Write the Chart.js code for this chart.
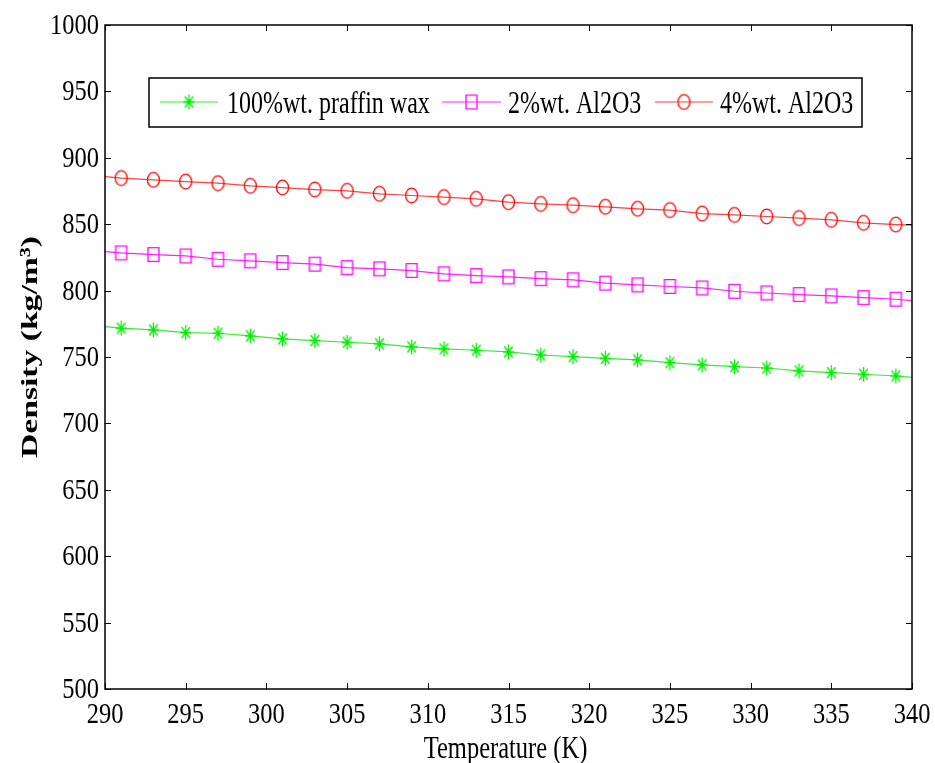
<!DOCTYPE html>
<html>
<head>
<meta charset="utf-8">
<script src="https://cdn.jsdelivr.net/npm/chart.js@4.4.1/dist/chart.umd.min.js"></script>
<style>
  body { margin: 0; background: #fff; }
  canvas { display: block; }
</style>
</head>
<body>
<canvas id="line-chart" width="935" height="763"></canvas>
<script>
// temperature (K) - line ends at 290 / 340, markers on the odd ones
let temps = [290, 291, 293, 295, 297, 299, 301, 303, 305, 307, 309, 311, 313, 315,
             317, 319, 321, 323, 325, 327, 329, 331, 333, 335, 337, 339, 340];

// density (kg/m3)
let wax = [772.9, 771.7, 770.4, 768.4, 767.9, 765.9, 763.6, 762.4, 761.1, 759.9, 757.6, 756.1, 755.1, 753.8,
           751.5, 750.3, 749.0, 747.8, 745.7, 744.0, 742.7, 741.7, 739.5, 738.2, 737.0, 735.7, 734.7];
let al2 = [829.4, 828.4, 827.1, 826.1, 823.6, 822.4, 821.1, 819.9, 817.3, 816.4, 815.1, 812.6, 811.3, 810.3,
           809.0, 808.1, 805.6, 804.3, 803.1, 802.0, 799.5, 798.2, 797.0, 796.0, 794.7, 793.5, 792.5];
let al4 = [885.9, 884.7, 883.4, 882.1, 880.9, 878.9, 877.6, 876.1, 875.1, 872.9, 871.6, 870.4, 869.1, 866.6,
           865.3, 864.3, 863.1, 861.6, 860.6, 858.0, 857.0, 855.8, 854.6, 853.3, 851.0, 849.7, 849.3];

let labels = ['100%wt. praffin wax', '2%wt. Al2O3', '4%wt. Al2O3'];
let xTicks = [290, 295, 300, 305, 310, 315, 320, 325, 330, 335, 340];
let yTicks = [500, 550, 600, 650, 700, 750, 800, 850, 900, 950, 1000];

const FONT = "'Liberation Serif', 'Times New Roman', serif";

// marker pictures (figure is a bit stretched vertically, so markers are too)
function makeMarker(kind, color) {
  let c = document.createElement('canvas');
  c.width = 15; c.height = 19;
  let g = c.getContext('2d');
  g.strokeStyle = color;
  g.lineWidth = 1.3;
  let cx = 7.5, cy = 9.5;
  g.beginPath();
  if (kind == 'circle') {
    g.ellipse(cx, cy, 6, 7.3, 0, 0, Math.PI * 2);
  } else if (kind == 'square') {
    g.rect(cx - 5.5, cy - 6.8, 11, 13.6);
  } else {
    g.moveTo(cx, cy - 7.5); g.lineTo(cx, cy + 7.5);
    g.moveTo(cx - 5.5, cy); g.lineTo(cx + 5.5, cy);
    g.moveTo(cx - 4.2, cy - 5.5); g.lineTo(cx + 4.2, cy + 5.5);
    g.moveTo(cx + 4.2, cy - 5.5); g.lineTo(cx - 4.2, cy + 5.5);
  }
  g.stroke();
  return c;
}

let mkWax = makeMarker('star', '#00ee00');
let mkAl2 = makeMarker('square', '#ff00ff');
let mkAl4 = makeMarker('circle', '#ff0000');

function toPts(ys) {
  return temps.map((t, i) => ({ x: t, y: ys[i] }));
}

function markerRadius(ctx) {
  return (ctx.dataIndex == 0 || ctx.dataIndex == temps.length - 1) ? 0 : 6;
}

function stretchText(ctx, str, x, y, sy) {
  ctx.save();
  ctx.translate(x, y);
  ctx.scale(1, sy);
  ctx.fillText(str, 0, 0);
  ctx.restore();
}

// frame, inward ticks, tick labels, titles and legend
const matlabAxes = {
  id: 'matlabAxes',
  afterDatasetsDraw(chart) {
    let ctx = chart.ctx;
    let a = chart.chartArea;
    let xs = chart.scales.x, ys = chart.scales.y;
    ctx.save();
    ctx.strokeStyle = '#000';
    ctx.fillStyle = '#000';
    ctx.lineWidth = 1.5;
    ctx.strokeRect(a.left, a.top, a.right - a.left, a.bottom - a.top);

    ctx.lineWidth = 1;
    ctx.beginPath();
    xTicks.forEach(v => {
      let px = Math.round(xs.getPixelForValue(v)) + 0.5;
      ctx.moveTo(px, a.bottom); ctx.lineTo(px, a.bottom - 6);
      ctx.moveTo(px, a.top); ctx.lineTo(px, a.top + 6);
    });
    yTicks.forEach(v => {
      let py = Math.round(ys.getPixelForValue(v)) + 0.5;
      ctx.moveTo(a.left, py); ctx.lineTo(a.left + 6, py);
      ctx.moveTo(a.right, py); ctx.lineTo(a.right - 6, py);
    });
    ctx.stroke();

    ctx.font = '24.5px ' + FONT;
    ctx.textAlign = 'center';
    ctx.textBaseline = 'alphabetic';
    xTicks.forEach(v => stretchText(ctx, String(v), xs.getPixelForValue(v), 723, 1.2));
    ctx.textAlign = 'right';
    yTicks.forEach(v => stretchText(ctx, String(v), a.left - 6, ys.getPixelForValue(v) + 9, 1.2));

    // axis titles
    ctx.textAlign = 'center';
    stretchText(ctx, 'Temperature (K)', (a.left + a.right) / 2 - 3, 758, 1.25);
    ctx.save();
    ctx.translate(37, (a.top + a.bottom) / 2 - 10);
    ctx.rotate(-Math.PI / 2);
    ctx.scale(1.4, 1);
    ctx.font = 'bold 24px ' + FONT;
    ctx.fillText('Density (kg/m³)', 0, 0);
    ctx.restore();

    // legend box
    ctx.fillStyle = '#fff';
    ctx.fillRect(149, 78, 713, 49);
    ctx.strokeStyle = '#000';
    ctx.lineWidth = 1.5;
    ctx.strokeRect(149, 78, 713, 49);
    let items = [
      { x0: 160, x1: 218, text: 227 },
      { x0: 442, x1: 501, text: 508 },
      { x0: 655, x1: 713, text: 720 }
    ];
    ctx.font = '24px ' + FONT;
    ctx.textAlign = 'left';
    ctx.fillStyle = '#000';
    chart.data.datasets.forEach((ds, i) => {
      let it = items[i];
      ctx.strokeStyle = ds.borderColor;
      ctx.lineWidth = ds.borderWidth;
      ctx.beginPath();
      ctx.moveTo(it.x0, 102); ctx.lineTo(it.x1, 102);
      ctx.stroke();
      let mk = ds.pointStyle;
      ctx.drawImage(mk, (it.x0 + it.x1) / 2 - mk.width / 2, 102 - mk.height / 2);
      stretchText(ctx, ds.label, it.text, 113, 1.3);
    });
    ctx.restore();
  }
};

new Chart(document.getElementById('line-chart').getContext('2d'), {
  type: 'line',
  data: {
    datasets: [
      { label: labels[0], data: toPts(wax), borderColor: '#33ee33', borderWidth: 1.2,
        pointStyle: mkWax, pointRadius: markerRadius },
      { label: labels[1], data: toPts(al2), borderColor: '#ff22ff', borderWidth: 1.2,
        pointStyle: mkAl2, pointRadius: markerRadius },
      { label: labels[2], data: toPts(al4), borderColor: '#ff4040', borderWidth: 1.2,
        pointStyle: mkAl4, pointRadius: markerRadius }
    ]
  },
  options: {
    responsive: false,
    animation: false,
    devicePixelRatio: 1,
    layout: { padding: { left: 105, right: 23, top: 25, bottom: 74 } },
    scales: {
      x: { type: 'linear', min: 290, max: 340, display: false },
      y: { type: 'linear', min: 500, max: 1000, display: false }
    },
    plugins: {
      legend: { display: false },
      tooltip: { enabled: false }
    }
  },
  plugins: [matlabAxes]
});
</script>
</body>
</html>
